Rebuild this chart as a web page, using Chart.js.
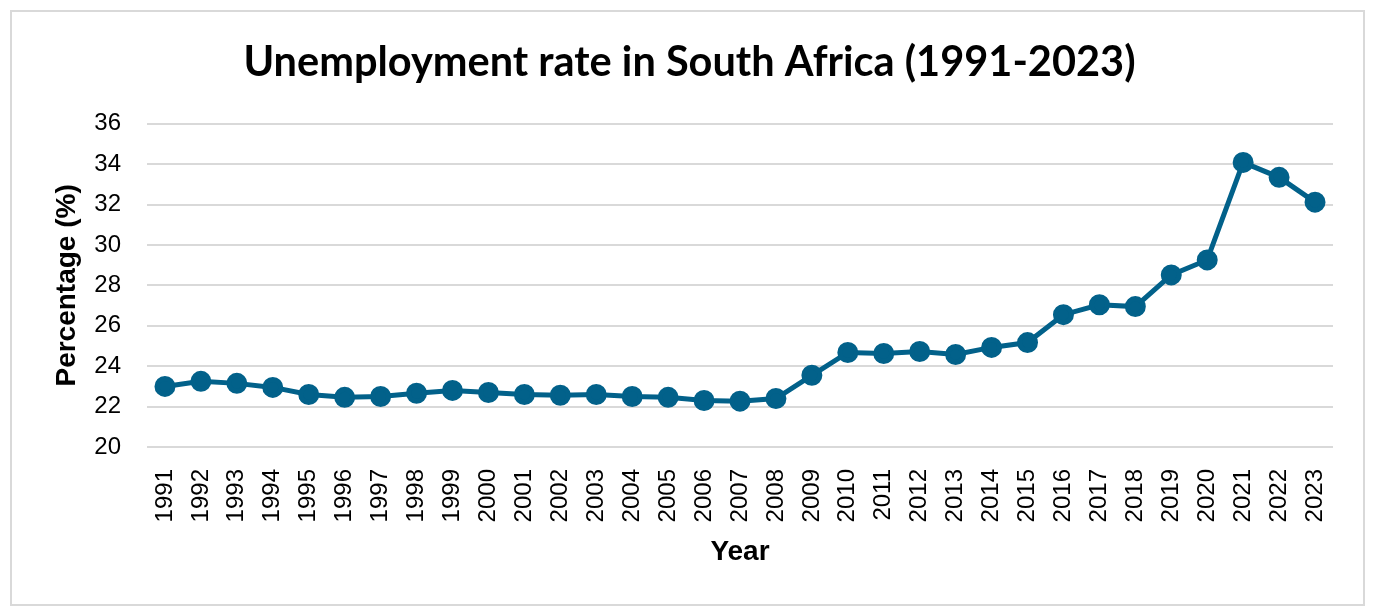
<!DOCTYPE html>
<html>
<head>
<meta charset="utf-8">
<script src="https://cdn.jsdelivr.net/npm/chart.js@4"></script>
<style>
  html, body { margin:0; padding:0; background:#fff; }
  #frame { position:absolute; left:10px; top:10px; width:1351px; height:592px; border:2px solid #d9d9d9; }
  #chart { display:block; }
</style>
</head>
<body>
<div id="frame"><canvas id="chart" width="1351" height="592"></canvas></div>
<script>
// Unemployment rate, South Africa, 1991-2023
const years = ['1991','1992','1993','1994','1995','1996','1997','1998','1999','2000',
  '2001','2002','2003','2004','2005','2006','2007','2008','2009','2010',
  '2011','2012','2013','2014','2015','2016','2017','2018','2019','2020',
  '2021','2022','2023'];
const rates = [23.0,23.25,23.15,22.95,22.6,22.46,22.5,22.66,22.8,22.7,
  22.6,22.56,22.6,22.5,22.46,22.3,22.27,22.4,23.55,24.68,
  24.63,24.73,24.58,24.93,25.17,26.55,27.04,26.95,28.52,29.26,
  34.09,33.35,32.12];
const yTicks = [20,22,24,26,28,30,32,34,36];

(function(){
  const blue = '#02618a';
  const ctx = document.getElementById('chart').getContext('2d');
  new Chart(ctx, {
    type: 'line',
    data: {
      labels: years,
      datasets: [{
        label: 'Unemployment rate',
        data: rates,
        borderColor: blue,
        backgroundColor: blue,
        borderWidth: 5,
        pointRadius: 8,
        pointHoverRadius: 8,
        tension: 0
      }]
    },
    options: {
      responsive: false,
      animation: false,
      layout: { padding: { left: 34, right: 30, top: 12, bottom: 31 } },
      plugins: {
        legend: { display: false },
        tooltip: { enabled: false },
        title: {
          display: true,
          text: 'Unemployment rate in South Africa (1991-2023)',
          color: '#000',
          font: { family: 'Lato', size: 41.5, weight: 'bold' },
          padding: { top: 14, bottom: 36 }
        }
      },
      scales: {
        x: {
          offset: true,
          grid: { display: false },
          border: { display: false },
          afterFit: axis => { axis.height = 126; },
          ticks: {
            color: '#000', font: { family: 'Liberation Sans', size: 24 },
            maxRotation: 90, minRotation: 90, autoSkip: false, padding: 14
          },
          title: {
            display: true, text: 'Year', color: '#000',
            font: { family: 'Liberation Sans', size: 28, weight: 'bold' },
            padding: { top: 14 }
          }
        },
        y: {
          min: 20, max: 36,
          afterBuildTicks: axis => { axis.ticks = yTicks.map(v => ({ value: v })); },
          afterFit: axis => { axis.width = 101; },
          grid: { color: '#d9d9d9', lineWidth: 2, drawTicks: false },
          border: { display: false },
          ticks: { color: '#000', font: { family: 'Liberation Sans', size: 24 }, padding: 26 },
          title: {
            display: true, text: 'Percentage (%)', color: '#000',
            font: { family: 'Liberation Sans', size: 28, weight: 'bold' },
            padding: { bottom: 6 }
          }
        }
      }
    }
  });
})();
</script>
</body>
</html>
